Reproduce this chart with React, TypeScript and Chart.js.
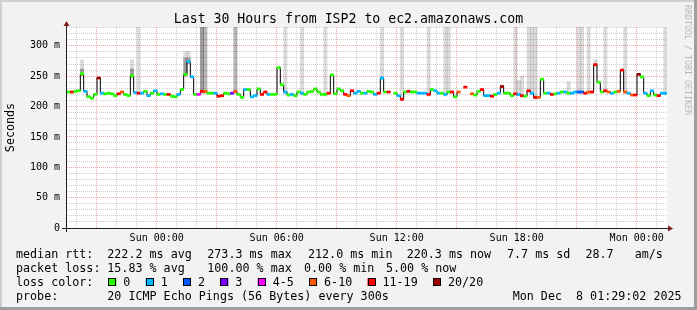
import { useEffect, useRef } from 'react';
import { Chart, registerables } from 'chart.js';

Chart.register(...registerables);

// ---------- data ----------
// time axis in hours relative to Sun 00:00 (window: Sat 19:29 .. Mon 01:29)
const TIME_START_H = -4.485;
const TIME_END_H = 25.515;
const STEP_H = 1 / 6; // 10 minute bins

const xTickHours = [0, 6, 12, 18, 24];
const xTickLabels = ['Sun 00:00', 'Sun 06:00', 'Sun 12:00', 'Sun 18:00', 'Mon 00:00'];
const yTickValues = [0, 50, 100, 150, 200, 250, 300];
const yTickLabels = ['0', '50 m', '100 m', '150 m', '200 m', '250 m', '300 m'];
const Y_MAX = 331;

const title = 'Last 30 Hours from ISP2 to ec2.amazonaws.com';
const yAxisTitle = 'Seconds';
const watermark = 'RRDTOOL / TOBI OETIKER';

// median rtt per 10-minute bin (ms), null = no reply
const medianMs: (number | null)[] = [
  224, 224, 225, 226, 254, 225, 216, 214, 220, 247,
  222, 221, 222, 221, 218, 221, 224, 220, 218, 251,
  223, 222, 222, 225, 218, 222, 226, 220, 221, 220,
  220, 217, 216, 220, 228, 253, 274, 249, 220, 220,
  225, 225, 222, 222, 222, 217, 218, 222, 221, 222,
  225, 220, 215, 228, 228, 216, 218, 229, 220, 224,
  220, 220, 220, 264, 236, 224, 219, 220, 218, 224,
  222, 220, 224, 225, 229, 224, 220, 220, 222, 252,
  221, 229, 226, 220, 218, 226, 222, 225, 222, 222,
  225, 224, 220, 222, 247, 224, 224, null, 222, 218,
  212, 224, 225, 224, 224, 222, 222, 222, 220, 228,
  226, 222, 222, 220, 224, 224, 216, 224, null, 232,
  null, 221, 219, 225, 228, 218, 218, 217, 220, 222,
  233, 222, 222, 218, 221, 220, 218, 217, 226, 222,
  215, 215, 245, 222, 222, 220, 221, 222, 224, 224,
  222, 222, 224, 224, 224, 222, 224, 224, 269, 240,
  224, 226, 224, 222, 224, 225, 260, 224, 222, 219,
  219, 253, 249, 222, 218, 226, 219, 218, 222, 222,
];

// lost pings (of 20) per bin
const lossCount: number[] = [
  0, 15, 0, 0, 0, 1, 0, 0, 0, 20,
  1, 0, 0, 0, 0, 15, 8, 0, 0, 0,
  1, 15, 1, 0, 1, 0, 1, 0, 1, 0,
  15, 0, 0, 1, 0, 0, 1, 1, 0, 4,
  15, 8, 0, 0, 1, 15, 15, 0, 0, 3,
  8, 0, 0, 1, 0, 1, 1, 0, 15, 15,
  1, 0, 0, 0, 0, 1, 0, 1, 0, 0,
  1, 0, 0, 0, 0, 0, 0, 0, 15, 0,
  0, 0, 0, 15, 8, 15, 1, 1, 0, 1,
  0, 0, 1, 15, 1, 0, 15, 20, 0, 1,
  15, 0, 15, 0, 0, 1, 1, 1, 15, 0,
  1, 1, 0, 1, 0, 15, 0, 8, 20, 15,
  20, 8, 0, 0, 15, 1, 1, 15, 0, 1,
  20, 0, 0, 0, 15, 1, 15, 0, 15, 1,
  15, 8, 0, 0, 1, 15, 0, 1, 0, 1,
  0, 1, 1, 2, 2, 15, 8, 15, 15, 0,
  0, 15, 8, 1, 0, 8, 15, 8, 1, 8,
  15, 20, 0, 1, 0, 1, 0, 15, 1, 1,
];

// smoke (ping spread) - light layer: bin index and top value (ms)
const smokeLightBins = [4, 19, 21, 35, 36, 40, 65, 70, 77, 94, 100, 108, 113, 114, 134, 135, 136, 138, 139, 140, 150, 153, 154, 156, 158, 161, 167, 179];
const smokeLightTop = [277, 277, 331, 291, 291, 331, 331, 331, 331, 331, 331, 331, 331, 331, 331, 243, 250, 331, 331, 331, 241, 331, 331, 331, 277, 331, 331, 331];
// smoke - dense layer
const smokeDarkBins = [4, 19, 35, 36, 40, 41, 50];
const smokeDarkTop = [262, 262, 280, 280, 331, 331, 331];

const lossLegendLabels = ['0', '1', '2', '3', '4-5', '6-10', '11-19', '20/20'];
const lossLegendColors = ['#26ff00', '#00b8ff', '#0059ff', '#7e00ff', '#ff00ff', '#ff5500', '#ff0000', '#a10000'];

const rttStats = ['222.2 ms avg', '273.3 ms max', '212.0 ms min', '220.3 ms now', '7.7 ms sd', '28.7   am/s'];
const lossStats = ['15.83 % avg', '100.00 % max', '0.00 % min', '5.00 % now'];
const probeText = '20 ICMP Echo Pings (56 Bytes) every 300s';
const stampText = 'Mon Dec  8 01:29:02 2025';

// ---------- helpers ----------
function lossColor(n: number): string {
  if (n <= 0) return lossLegendColors[0];
  if (n === 1) return lossLegendColors[1];
  if (n === 2) return lossLegendColors[2];
  if (n === 3) return lossLegendColors[3];
  if (n <= 5) return lossLegendColors[4];
  if (n <= 10) return lossLegendColors[5];
  if (n <= 19) return lossLegendColors[6];
  return lossLegendColors[7];
}
const binCenter = (i: number) => TIME_START_H + (i + 0.5) * STEP_H;

function smokeData(bins: number[], tops: number[]) {
  return medianMs.map((m, i) => {
    const k = bins.indexOf(i);
    if (k < 0 || m == null) return { x: binCenter(i), y: null };
    return { x: binCenter(i), y: [m - 3, tops[k]] };
  });
}

const MONO = '"DejaVu Sans Mono", monospace';

const decor = {
  id: 'decor',
  beforeDraw(chart: any) {
    const { ctx, chartArea: a, width, height } = chart;
    ctx.save();
    ctx.fillStyle = '#f2f2f2';
    ctx.fillRect(0, 0, width, height);
    ctx.fillStyle = '#cfcfcf';
    ctx.fillRect(0, 0, width, 2);
    ctx.fillRect(0, 0, 2, height);
    ctx.fillStyle = '#9e9e9e';
    ctx.fillRect(0, height - 3, width, 3);
    ctx.fillRect(width - 3, 0, 3, height);
    ctx.fillStyle = '#ffffff';
    ctx.fillRect(a.left, a.top, a.right - a.left, a.bottom - a.top);
    ctx.restore();
  },
  afterDraw(chart: any) {
    const { ctx, chartArea: a } = chart;
    const xs = chart.scales.x;
    const ys = chart.scales.y;
    ctx.save();
    // axes
    const ax = a.left - 0.5;
    const ay = Math.round(a.bottom) + 0.5;
    ctx.strokeStyle = '#1f1f1f';
    ctx.lineWidth = 1;
    ctx.beginPath();
    ctx.moveTo(ax, a.top - 5);
    ctx.lineTo(ax, a.bottom + 4);
    ctx.moveTo(a.left - 5, ay);
    ctx.lineTo(a.right + 3, ay);
    ctx.stroke();
    // arrows
    ctx.fillStyle = '#7f1f1f';
    ctx.beginPath();
    ctx.moveTo(ax, a.top - 6);
    ctx.lineTo(ax - 3, a.top - 1);
    ctx.lineTo(ax + 3, a.top - 1);
    ctx.closePath();
    ctx.fill();
    ctx.beginPath();
    ctx.moveTo(a.right + 6, ay);
    ctx.lineTo(a.right + 1, ay - 3);
    ctx.lineTo(a.right + 1, ay + 3);
    ctx.closePath();
    ctx.fill();

    ctx.fillStyle = '#000';
    // y tick labels
    ctx.font = `10px ${MONO}`;
    ctx.textAlign = 'right';
    ctx.textBaseline = 'middle';
    yTickValues.forEach((v, i) => {
      ctx.fillText(yTickLabels[i], a.left - 7, ys.getPixelForValue(v));
    });
    // x tick labels
    ctx.textAlign = 'center';
    ctx.textBaseline = 'alphabetic';
    xTickHours.forEach((h, i) => {
      ctx.fillText(xTickLabels[i], xs.getPixelForValue(h), 240.7);
    });
    // title
    ctx.font = `13.2px ${MONO}`;
    ctx.fillText(title, 348.5, 23);
    // y axis title
    ctx.font = `11.7px ${MONO}`;
    ctx.save();
    ctx.translate(14, (a.top + a.bottom) / 2);
    ctx.rotate(-Math.PI / 2);
    ctx.textAlign = 'center';
    ctx.fillText(yAxisTitle, 0, 0);
    ctx.restore();
    // watermark
    ctx.save();
    ctx.translate(685, 5);
    ctx.rotate(Math.PI / 2);
    ctx.textAlign = 'left';
    ctx.fillStyle = 'rgba(0,0,0,0.25)';
    ctx.font = `8.3px ${MONO}`;
    ctx.fillText(watermark, 0, 0);
    ctx.restore();

    // legend
    ctx.font = `11.7px ${MONO}`;
    ctx.textAlign = 'left';
    ctx.fillStyle = '#000';
    const b1 = 257.5, b2 = 271.5, b3 = 285.5, b4 = 299.5;
    ctx.fillText('median rtt:', 16, b1);
    const rttX = [107.3, 207.3, 308, 406.7, 507, 585.5];
    rttStats.forEach((t, i) => ctx.fillText(t, rttX[i], b1));
    ctx.fillText('packet loss:', 16, b2);
    const lossX = [107.3, 207.3, 304, 386];
    lossStats.forEach((t, i) => ctx.fillText(t, lossX[i], b2));
    ctx.fillText('loss color:', 16, b3);
    let lx = 108.3;
    lossLegendLabels.forEach((lab, i) => {
      ctx.fillStyle = lossLegendColors[i];
      ctx.fillRect(lx, 278, 8, 8);
      ctx.strokeStyle = '#000';
      ctx.lineWidth = 1;
      ctx.strokeRect(Math.round(lx) + 0.5, 278.5, 7, 7);
      ctx.fillStyle = '#000';
      ctx.fillText(lab, lx + 15, b3);
      lx = lx + 15 + ctx.measureText(lab).width + 15.3;
    });
    ctx.fillText('probe:', 16, b4);
    ctx.fillText(probeText, 107.3, b4);
    ctx.fillText(stampText, 512.7, b4);
    ctx.restore();
  },
};

export default function App() {
  const ref = useRef<HTMLCanvasElement | null>(null);
  useEffect(() => {
    document.body.style.margin = '0';
    const canvas = ref.current;
    if (!canvas) return;

    const medianBars = medianMs.map((m, i) => ({
      x: binCenter(i),
      y: m == null ? null : [m - 1.7, m + 1.7],
    }));
    const medianLine = medianMs.map((m, i) => ({ x: binCenter(i), y: m }));

    const isMult = (v: number, k: number) => Math.abs(v / k - Math.round(v / k)) < 1e-6;

    const chart = new Chart(canvas, {
      type: 'bar',
      data: {
        datasets: [
          {
            type: 'bar',
            data: medianBars as any,
            backgroundColor: lossCount.map(lossColor),
            borderWidth: 0,
            barPercentage: 1,
            categoryPercentage: 1,
            grouped: false,
            order: 0,
          } as any,
          {
            type: 'line',
            data: medianLine as any,
            borderColor: '#000000',
            borderWidth: 1,
            pointRadius: 0,
            stepped: 'middle',
            spanGaps: false,
            fill: false,
            order: 1,
          } as any,
          {
            type: 'bar',
            data: smokeData(smokeDarkBins, smokeDarkTop) as any,
            backgroundColor: 'rgba(0,0,0,0.28)',
            borderWidth: 0,
            barPercentage: 1,
            categoryPercentage: 1,
            grouped: false,
            order: 2,
          } as any,
          {
            type: 'bar',
            data: smokeData(smokeLightBins, smokeLightTop) as any,
            backgroundColor: 'rgba(0,0,0,0.14)',
            borderWidth: 0,
            barPercentage: 1,
            categoryPercentage: 1,
            grouped: false,
            order: 3,
          } as any,
        ],
      },
      options: {
        animation: false,
        responsive: false,
        events: [],
        layout: { padding: { left: 67, right: 30, top: 27, bottom: 82 } },
        plugins: {
          legend: { display: false },
          tooltip: { enabled: false },
          title: { display: false },
        },
        scales: {
          x: {
            type: 'linear',
            min: TIME_START_H,
            max: TIME_END_H,
            offset: false,
            ticks: { display: false },
            grid: {
              offset: false,
              drawTicks: false,
              lineWidth: 1,
              color: (c: any) =>
                c.tick && isMult(c.tick.value, 3) ? 'rgba(222,80,80,0.5)' : 'rgba(150,150,150,0.45)',
            },
            border: { display: false, dash: [1, 1] },
            afterBuildTicks: (s: any) => {
              const t = [];
              for (let h = Math.ceil(TIME_START_H); h <= Math.floor(TIME_END_H); h++) t.push({ value: h });
              s.ticks = t;
            },
            afterFit: (s: any) => {
              s.height = 0;
            },
          },
          y: {
            type: 'linear',
            min: 0,
            max: Y_MAX,
            ticks: { display: false },
            grid: {
              drawTicks: false,
              lineWidth: 1,
              color: (c: any) =>
                c.tick && isMult(c.tick.value, 50) ? 'rgba(222,80,80,0.5)' : 'rgba(150,150,150,0.45)',
            },
            border: { display: false, dash: [1, 1] },
            afterBuildTicks: (s: any) => {
              const t = [];
              for (let v = 10; v <= Y_MAX; v += 10) t.push({ value: v });
              s.ticks = t;
            },
            afterFit: (s: any) => {
              s.width = 0;
            },
          },
        },
      } as any,
      plugins: [decor],
    });
    return () => chart.destroy();
  }, []);

  return (
    <div style={{ width: 697, height: 310 }}>
      <canvas ref={ref} width={697} height={310} style={{ display: 'block' }} />
    </div>
  );
}
